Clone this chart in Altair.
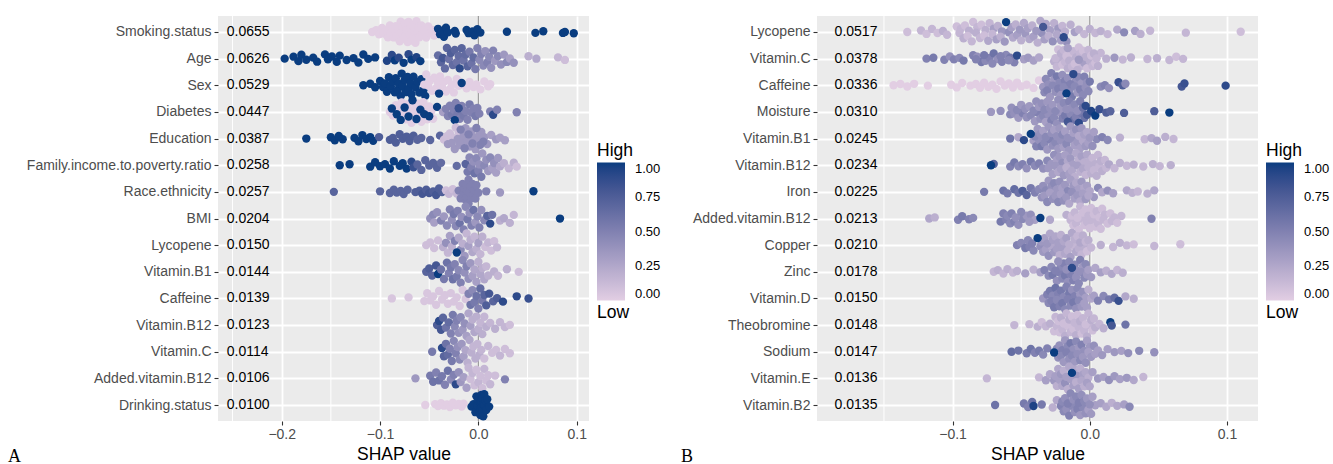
import altair as alt
import numpy as np
import pandas as pd

# ---------------- labels ----------------
FEATURES_A = ["Smoking.status", "Age", "Sex", "Diabetes", "Education",
              "Family.income.to.poverty.ratio", "Race.ethnicity", "BMI", "Lycopene",
              "Vitamin.B1", "Caffeine", "Vitamin.B12", "Vitamin.C",
              "Added.vitamin.B12", "Drinking.status"]
IMPORTANCE_A = ["0.0655", "0.0626", "0.0529", "0.0447", "0.0387", "0.0258", "0.0257",
                "0.0204", "0.0150", "0.0144", "0.0139", "0.0123", "0.0114", "0.0106", "0.0100"]
FEATURES_B = ["Lycopene", "Vitamin.C", "Caffeine", "Moisture", "Vitamin.B1", "Vitamin.B12",
              "Iron", "Added.vitamin.B12", "Copper", "Zinc", "Vitamin.D", "Theobromine",
              "Sodium", "Vitamin.E", "Vitamin.B2"]
IMPORTANCE_B = ["0.0517", "0.0378", "0.0336", "0.0310", "0.0245", "0.0234", "0.0225",
                "0.0213", "0.0210", "0.0178", "0.0150", "0.0148", "0.0147", "0.0136", "0.0135"]
X_TICKS = [-0.2, -0.1, 0.0, 0.1]
X_MINOR_A = [-0.25, -0.15, -0.05, 0.05]
X_MINOR_B = [-0.15, -0.05, 0.05]
LEGEND_VALUES = [0, 0.25, 0.5, 0.75, 1]

# ---------------- panel A points: (SHAP value, scaled feature value) ----------------
A_SMOKING = [
    (-0.108, 0), (-0.104, 0), (-0.101, 0), (-0.098, 0), (-0.096, 0), (-0.094, 0), (-0.092, 0),
    (-0.090, 0), (-0.089, 0), (-0.087, 0), (-0.086, 0), (-0.084, 0), (-0.083, 0), (-0.081, 0),
    (-0.080, 0), (-0.079, 0), (-0.078, 0), (-0.077, 0), (-0.076, 0), (-0.075, 0), (-0.074, 0),
    (-0.073, 0), (-0.072, 0), (-0.071, 0), (-0.070, 0), (-0.069, 0), (-0.068, 0), (-0.067, 0),
    (-0.066, 0), (-0.065, 0), (-0.064, 0), (-0.063, 0), (-0.062, 0), (-0.061, 0), (-0.060, 0),
    (-0.058, 0), (-0.057, 0), (-0.055, 0), (-0.053, 0), (-0.051, 0), (-0.049, 0), (-0.047, 0),
    (-0.045, 0),
    (-0.041, 1), (-0.039, 1), (-0.037, 1), (-0.035, 1), (-0.033, 1), (-0.031, 1), (-0.024, 1),
    (-0.023, 1), (-0.012, 1), (-0.010, 1), (-0.006, 1), (-0.004, 1), (-0.001, 1), (0.002, 1),
    (0.029, 1), (0.058, 1), (0.066, 1), (0.086, 1), (0.088, 1), (0.097, 1)]
A_AGE = [
    (-0.197, 1), (-0.188, 1), (-0.183, 1), (-0.180, 1), (-0.175, 1), (-0.168, 1), (-0.164, 1),
    (-0.156, 1), (-0.153, 1), (-0.149, 1), (-0.144, 1), (-0.141, 1), (-0.134, 1), (-0.127, 1),
    (-0.122, 1), (-0.117, 1), (-0.112, 1), (-0.105, 1),
    (-0.093, 0.95), (-0.088, 0.9), (-0.085, 1), (-0.081, 0.9), (-0.076, 1), (-0.071, 0.9),
    (-0.068, 1), (-0.063, 0.95), (-0.059, 1),
    (-0.041, 0.65), (-0.038, 0.7), (-0.036, 0.8), (-0.034, 0.65), (-0.032, 0.7), (-0.030, 0.6),
    (-0.028, 0.75), (-0.026, 0.65), (-0.024, 0.7), (-0.022, 0.6), (-0.020, 0.65), (-0.019, 0.9),
    (-0.017, 0.7), (-0.015, 0.6), (-0.013, 0.65), (-0.011, 0.7), (-0.009, 0.55), (-0.007, 0.6),
    (-0.005, 0.65), (-0.003, 0.55), (-0.001, 0.5), (0.001, 0.45), (0.003, 0.5), (0.005, 0.45),
    (0.007, 0.4), (0.009, 0.5), (0.011, 0.45), (0.013, 0.4), (0.015, 0.5), (0.017, 0.35),
    (0.020, 0.45), (0.023, 0.4), (0.026, 0.35), (0.029, 0.45), (0.032, 0.3), (0.036, 0.4),
    (0.051, 0.2), (0.059, 0.25), (0.081, 0.15), (0.088, 0.1)]
A_SEX = [
    (-0.117, 1), (-0.110, 1), (-0.105, 1), (-0.100, 1), (-0.097, 1), (-0.095, 1), (-0.093, 1),
    (-0.091, 1), (-0.089, 1), (-0.087, 1), (-0.085, 1), (-0.084, 1), (-0.082, 1), (-0.081, 1),
    (-0.079, 1), (-0.078, 1), (-0.077, 1), (-0.075, 1), (-0.074, 1), (-0.072, 1), (-0.071, 1),
    (-0.069, 1), (-0.068, 1), (-0.066, 1), (-0.064, 1), (-0.062, 1), (-0.060, 1), (-0.058, 1),
    (-0.056, 1), (-0.054, 1),
    (-0.055, 0), (-0.053, 0), (-0.051, 0), (-0.049, 0), (-0.047, 0), (-0.045, 0), (-0.043, 0),
    (-0.041, 0), (-0.039, 0), (-0.037, 0), (-0.035, 0), (-0.033, 0), (-0.031, 0), (-0.029, 0),
    (-0.027, 0), (-0.025, 0), (-0.022, 0), (-0.020, 0), (-0.012, 0), (-0.009, 0), (-0.005, 0),
    (-0.002, 0), (0.002, 0), (0.006, 0), (0.010, 0), (0.012, 0), (-0.017, 1), (-0.040, 1)]
A_DIABETES = [
    (-0.090, 0), (-0.087, 0), (-0.084, 0), (-0.081, 0), (-0.078, 0), (-0.076, 0), (-0.074, 0),
    (-0.072, 0), (-0.070, 0), (-0.068, 0), (-0.066, 0), (-0.064, 0), (-0.062, 0), (-0.060, 0),
    (-0.058, 0), (-0.056, 0), (-0.054, 0), (-0.052, 0), (-0.050, 0), (-0.048, 0), (-0.046, 0),
    (-0.088, 1), (-0.083, 1), (-0.079, 1), (-0.075, 1), (-0.071, 1), (-0.067, 1), (-0.063, 1),
    (-0.059, 1), (-0.055, 1), (-0.050, 1), (-0.042, 1),
    (-0.036, 0.3), (-0.033, 0.5), (-0.031, 0.5), (-0.029, 0.5), (-0.027, 0.55), (-0.025, 0.5),
    (-0.023, 0.5), (-0.021, 0.55), (-0.019, 0.5), (-0.017, 0.5), (-0.015, 0.55), (-0.013, 0.5),
    (-0.011, 0.5), (-0.009, 0.55), (-0.007, 0.5), (-0.005, 0.5), (-0.003, 0.55), (-0.001, 0.5),
    (0.001, 0.5), (-0.024, 1), (-0.020, 0.85),
    (0.012, 0.5), (0.015, 0.9), (0.019, 0.5), (0.039, 0.5)]
A_EDUCATION = [
    (-0.175, 1), (-0.150, 1), (-0.146, 1), (-0.142, 1), (-0.138, 1), (-0.126, 1), (-0.122, 1),
    (-0.118, 1), (-0.114, 1), (-0.110, 1), (-0.107, 1),
    (-0.101, 0.75), (-0.090, 0.75), (-0.087, 0.75), (-0.084, 0.75), (-0.080, 0.75), (-0.077, 0.75),
    (-0.073, 0.75), (-0.070, 0.75), (-0.066, 0.75), (-0.062, 0.7), (-0.058, 0.7), (-0.049, 0.7),
    (-0.039, 0.7),
    (-0.035, 0.1), (-0.032, 0.1), (-0.029, 0.1), (-0.026, 0.1), (-0.023, 0.1), (-0.020, 0.1),
    (-0.031, 0.35), (-0.027, 0.35), (-0.024, 0.35), (-0.021, 0.35), (-0.019, 0.35), (-0.017, 0.35),
    (-0.015, 0.35), (-0.013, 0.35), (-0.011, 0.35), (-0.009, 0.35), (-0.007, 0.35), (-0.005, 0.35),
    (-0.003, 0.35), (-0.001, 0.35), (0.001, 0.35), (0.003, 0.35), (0.006, 0.35), (0.009, 0.35),
    (-0.018, 0.5), (-0.014, 0.5), (-0.010, 0.5), (-0.006, 0.5), (-0.002, 0.5), (0.002, 0.5),
    (0.005, 0.5), (0.013, 0.3), (0.018, 0.35), (0.022, 0.3), (0.027, 0.3)]
A_INCOME = [
    (-0.141, 1), (-0.131, 1), (-0.110, 1), (-0.105, 1), (-0.100, 1), (-0.095, 1), (-0.090, 1),
    (-0.086, 1), (-0.080, 1), (-0.077, 1), (-0.073, 1), (-0.068, 0.9), (-0.066, 0.85),
    (-0.062, 0.7), (-0.058, 0.7), (-0.054, 0.7), (-0.050, 0.7), (-0.046, 0.7), (-0.042, 0.7),
    (-0.038, 0.65), (-0.022, 0.65), (-0.013, 0.7),
    (-0.011, 0.55), (-0.009, 0.45), (-0.007, 0.5), (-0.005, 0.4), (-0.004, 0.6), (-0.002, 0.45),
    (0.000, 0.5), (0.001, 0.4), (0.003, 0.55), (0.004, 0.35), (0.006, 0.45), (0.008, 0.4),
    (0.010, 0.35), (0.012, 0.45), (0.014, 0.3), (0.016, 0.4), (0.018, 0.3), (0.020, 0.35),
    (0.022, 0.25), (0.026, 0.2), (0.031, 0.15), (0.036, 0.2), (0.039, 0.1)]
A_RACE = [
    (-0.147, 0.7), (-0.100, 0.7), (-0.090, 0.7), (-0.086, 0.7), (-0.083, 0.7), (-0.079, 0.7),
    (-0.076, 0.7), (-0.072, 0.7), (-0.064, 0.75), (-0.060, 0.75), (-0.057, 0.8), (-0.053, 0.75),
    (-0.050, 0.8), (-0.046, 0.75), (-0.043, 0.8), (-0.040, 0.75), (-0.037, 0.75),
    (-0.033, 0.1), (-0.030, 0.15), (-0.026, 0.1), (-0.022, 0.15),
    (-0.020, 0.5), (-0.018, 0.5), (-0.016, 0.5), (-0.015, 0.5), (-0.014, 0.5), (-0.013, 0.5),
    (-0.012, 0.5), (-0.012, 0.5), (-0.011, 0.5), (-0.010, 0.5), (-0.010, 0.5), (-0.009, 0.5),
    (-0.008, 0.5), (-0.007, 0.5), (-0.006, 0.5), (-0.005, 0.5), (-0.004, 0.5), (-0.003, 0.5),
    (-0.002, 0.5), (0.000, 0.5), (0.008, 0.5), (0.022, 0.35), (0.056, 1)]
A_BMI = [
    (-0.049, 0.4), (-0.046, 0.45), (-0.045, 0.3), (-0.042, 0.4), (-0.038, 0.5), (-0.035, 0.35),
    (-0.032, 0.45), (-0.029, 0.5), (-0.027, 0.4), (-0.025, 0.55), (-0.023, 0.45), (-0.021, 0.5),
    (-0.019, 0.6), (-0.017, 0.4), (-0.015, 0.5), (-0.013, 0.45), (-0.011, 0.55), (-0.009, 0.4),
    (-0.007, 0.5), (-0.005, 0.6), (-0.003, 0.35), (-0.001, 0.45), (0.001, 0.5), (0.003, 0.4),
    (0.006, 0.45), (0.009, 0.7), (0.012, 0.9), (0.014, 0.6), (0.022, 0.2), (0.026, 0.25),
    (0.032, 0.2), (0.036, 0.15), (0.083, 1)]
A_LYCOPENE = [
    (-0.053, 0.1), (-0.049, 0.1), (-0.045, 0.1), (-0.041, 0.1), (-0.036, 0.2), (-0.033, 0.4),
    (-0.031, 0.15), (-0.029, 0.3), (-0.027, 0.2), (-0.024, 0.5), (-0.020, 0.25), (-0.018, 0.45),
    (-0.016, 0.2), (-0.014, 0.35), (-0.012, 0.15), (-0.010, 0.3), (-0.008, 0.2), (-0.006, 0.25),
    (-0.004, 0.15), (-0.002, 0.2), (0.000, 0.3), (0.002, 0.15), (0.004, 0.2), (0.007, 0.1),
    (0.010, 0.15), (0.013, 0.1), (0.016, 0.1), (0.019, 0.15), (-0.022, 1)]
A_VITB1 = [
    (-0.053, 0.7), (-0.050, 0.75), (-0.047, 0.7), (-0.043, 0.8), (-0.041, 1), (-0.038, 0.6),
    (-0.035, 0.55), (-0.032, 0.6), (-0.030, 0.5), (-0.028, 0.55), (-0.026, 0.6), (-0.024, 0.5),
    (-0.022, 0.55), (-0.020, 0.45), (-0.018, 0.5), (-0.016, 0.45), (-0.014, 0.4), (-0.012, 0.5),
    (-0.010, 0.4), (-0.008, 0.35), (-0.006, 0.3), (-0.004, 0.25), (-0.002, 0.3), (0.000, 0.2),
    (0.002, 0.25), (0.004, 0.2), (0.006, 0.25), (0.008, 0.15), (0.010, 0.2), (0.016, 0.2),
    (0.020, 0.15), (0.029, 0.2), (0.041, 0.1)]
A_CAFFEINE = [
    (-0.088, 0.05), (-0.071, 0.05), (-0.055, 0.05), (-0.052, 0.05), (-0.049, 0.05), (-0.046, 0.05),
    (-0.043, 0.05), (-0.040, 0.05), (-0.037, 0.05), (-0.034, 0.05), (-0.031, 0.05), (-0.028, 0.05),
    (-0.025, 0.05), (-0.022, 0.05), (-0.019, 0.05), (-0.016, 0.05), (-0.013, 0.05),
    (-0.010, 0.5), (-0.008, 0.6), (-0.006, 0.45), (-0.004, 0.55), (-0.002, 0.6), (0.000, 0.5),
    (0.002, 0.65), (0.004, 0.55), (0.006, 0.7), (0.008, 0.75), (0.011, 0.8), (0.015, 0.7),
    (0.019, 0.75), (0.025, 0.9), (0.039, 0.9), (0.051, 0.85)]
A_VITB12 = [
    (-0.042, 0.75), (-0.040, 0.9), (-0.038, 0.8), (-0.036, 0.7), (-0.033, 0.6), (-0.030, 0.65),
    (-0.028, 0.5), (-0.026, 0.55), (-0.024, 0.45), (-0.022, 0.5), (-0.020, 0.4), (-0.018, 0.45),
    (-0.016, 0.35), (-0.014, 0.4), (-0.012, 0.3), (-0.010, 0.25), (-0.008, 0.3), (-0.006, 0.2),
    (-0.004, 0.25), (-0.002, 0.2), (0.000, 0.2), (0.002, 0.15), (0.004, 0.2), (0.006, 0.15),
    (0.008, 0.2), (0.012, 0.15), (0.017, 0.2), (0.022, 0.15), (0.027, 0.15), (0.032, 0.1)]
A_VITC = [
    (-0.047, 0.55), (-0.037, 0.9), (-0.035, 0.7), (-0.033, 0.6), (-0.031, 0.65), (-0.029, 0.5),
    (-0.027, 0.55), (-0.025, 0.45), (-0.023, 0.5), (-0.021, 0.4), (-0.019, 0.45), (-0.017, 0.35),
    (-0.015, 0.3), (-0.013, 0.25), (-0.011, 0.2), (-0.009, 0.25), (-0.007, 0.2), (-0.005, 0.15),
    (-0.003, 0.2), (-0.001, 0.15), (0.001, 0.2), (0.003, 0.15), (0.006, 0.1), (0.010, 0.15),
    (0.014, 0.1), (0.018, 0.1), (0.022, 0.15), (0.027, 0.1), (0.032, 0.1)]
A_ADDED_B12 = [
    (-0.064, 0.35), (-0.049, 0.55), (-0.046, 0.6), (-0.043, 0.5), (-0.040, 0.6), (-0.037, 0.55),
    (-0.034, 0.5), (-0.031, 0.6), (-0.028, 0.45), (-0.025, 0.5), (-0.023, 0.9), (-0.020, 0.4),
    (-0.018, 0.35), (-0.015, 0.3), (-0.012, 0.3), (-0.010, 0.15), (-0.008, 0.1), (-0.006, 0.15),
    (-0.004, 0.1), (-0.002, 0.1), (0.000, 0.15), (0.002, 0.1), (0.004, 0.1), (0.006, 0.15),
    (0.008, 0.1), (0.010, 0.1), (0.012, 0.15), (0.017, 0.1), (0.027, 0.5)]
A_DRINKING = [
    (-0.054, 0), (-0.044, 0), (-0.041, 0), (-0.038, 0), (-0.035, 0), (-0.032, 0), (-0.029, 0),
    (-0.026, 0), (-0.023, 0), (-0.020, 0), (-0.017, 0), (-0.015, 0),
    (-0.007, 1), (-0.005, 1), (-0.003, 1), (-0.002, 1), (-0.001, 1), (0.000, 1), (0.001, 1),
    (0.001, 1), (0.002, 1), (0.002, 1), (0.002, 1), (0.003, 1), (0.003, 1), (0.003, 1),
    (0.004, 1), (0.004, 1), (0.004, 1), (0.005, 1), (0.005, 1), (0.006, 1), (0.006, 1),
    (0.007, 1), (0.008, 1), (0.009, 1), (0.011, 1)]

# ---------------- panel B points ----------------
B_LYCOPENE = [
    (-0.133, 0.1), (-0.123, 0.15), (-0.119, 0.1), (-0.115, 0.15), (-0.111, 0.1), (-0.107, 0.2),
    (-0.104, 0.15), (-0.097, 0.1), (-0.094, 0.15), (-0.091, 0.1), (-0.088, 0.2), (-0.085, 0.1),
    (-0.082, 0.15), (-0.079, 0.1), (-0.076, 0.2), (-0.073, 0.15), (-0.070, 0.3), (-0.067, 0.2),
    (-0.064, 0.35), (-0.059, 0.4), (-0.056, 0.25), (-0.053, 0.3), (-0.050, 0.2), (-0.047, 0.35),
    (-0.044, 0.25), (-0.041, 0.3), (-0.038, 0.2), (-0.035, 0.4), (-0.032, 0.25), (-0.029, 0.3),
    (-0.026, 0.2), (-0.023, 0.35), (-0.020, 0.15), (-0.017, 0.4), (-0.014, 0.2), (-0.011, 0.3),
    (-0.008, 0.2), (-0.004, 0.15), (0.000, 0.2), (0.004, 0.15), (0.008, 0.2), (0.013, 0.15),
    (0.020, 0.25), (0.025, 0.45), (0.033, 0.3), (0.037, 0.2), (0.044, 0.15), (0.070, 0.15),
    (0.110, 0.1),
    (-0.095, 0.15), (-0.092, 0.2), (-0.089, 0.1), (-0.086, 0.15), (-0.083, 0.2), (-0.080, 0.15),
    (-0.077, 0.1), (-0.074, 0.25), (-0.071, 0.15), (-0.068, 0.3), (-0.065, 0.2), (-0.062, 0.35),
    (-0.057, 0.3), (-0.054, 0.2), (-0.051, 0.35), (-0.048, 0.25), (-0.045, 0.3), (-0.042, 0.2),
    (-0.039, 0.35), (-0.036, 0.25), (-0.033, 0.3), (-0.030, 0.2), (-0.027, 0.4), (-0.024, 0.25),
    (-0.021, 0.3), (-0.018, 0.2),
    (-0.061, 1), (-0.034, 0.8), (-0.019, 0.9)]
B_VITC = [
    (-0.119, 0.5), (-0.114, 0.55), (-0.106, 0.5), (-0.102, 0.4), (-0.099, 0.5), (-0.095, 0.45),
    (-0.092, 0.55), (-0.085, 0.5), (-0.082, 0.4), (-0.079, 0.55), (-0.076, 0.45), (-0.073, 0.5),
    (-0.070, 0.6), (-0.067, 0.4), (-0.064, 0.5), (-0.061, 0.45), (-0.058, 0.55), (-0.055, 0.5),
    (-0.083, 0.5), (-0.077, 0.55), (-0.071, 0.45), (-0.065, 0.5), (-0.059, 0.45),
    (-0.053, 0.9), (-0.048, 0.3), (-0.045, 0.35), (-0.041, 0.3), (-0.037, 0.25),
    (-0.026, 0.2), (-0.024, 0.15), (-0.022, 0.2), (-0.020, 0.1), (-0.018, 0.15), (-0.016, 0.2),
    (-0.014, 0.1), (-0.012, 0.15), (-0.010, 0.2), (-0.008, 0.1), (-0.006, 0.15), (-0.004, 0.3),
    (-0.002, 0.1), (0.000, 0.2), (0.002, 0.15), (0.004, 0.1), (0.006, 0.2), (0.008, 0.15),
    (-0.025, 0.15), (-0.023, 0.1), (-0.021, 0.2), (-0.019, 0.15), (-0.017, 0.1), (-0.015, 0.2),
    (-0.013, 0.15), (-0.011, 0.1), (-0.009, 0.2), (-0.007, 0.15), (-0.005, 0.1), (-0.003, 0.2),
    (-0.001, 0.15), (0.001, 0.1), (0.003, 0.2), (0.005, 0.15), (-0.016, 0.3), (-0.008, 0.35),
    (0.012, 0.2), (0.018, 0.35), (0.024, 0.15), (0.030, 0.2), (0.042, 0.15), (0.049, 0.2),
    (0.058, 0.15), (0.063, 0.1), (0.068, 0.15)]
B_CAFFEINE = [
    (-0.143, 0), (-0.138, 0), (-0.133, 0), (-0.128, 0), (-0.118, 0), (-0.101, 0), (-0.097, 0),
    (-0.093, 0), (-0.087, 0), (-0.083, 0), (-0.080, 0), (-0.077, 0), (-0.074, 0), (-0.071, 0),
    (-0.068, 0), (-0.065, 0), (-0.062, 0), (-0.059, 0), (-0.056, 0), (-0.053, 0), (-0.050, 0),
    (-0.046, 0), (-0.041, 0), (-0.037, 0), (-0.033, 0),
    (-0.034, 0.35), (-0.032, 0.45), (-0.030, 0.4), (-0.028, 0.5), (-0.026, 0.35), (-0.024, 0.55),
    (-0.022, 0.45), (-0.020, 0.4), (-0.018, 0.5), (-0.015, 0.45), (-0.013, 0.55),
    (-0.010, 0.4), (-0.008, 0.45), (-0.006, 0.35), (-0.004, 0.5), (-0.002, 0.4),
    (-0.033, 0.45), (-0.031, 0.5), (-0.029, 0.35), (-0.027, 0.45), (-0.025, 0.4), (-0.023, 0.5),
    (-0.021, 0.35), (-0.019, 0.45), (-0.016, 0.4), (-0.014, 0.5), (-0.011, 0.45), (-0.009, 0.35),
    (-0.007, 0.5), (-0.005, 0.45), (-0.003, 0.4), (-0.001, 0.45),
    (-0.017, 1), (-0.012, 0.9),
    (0.000, 0.55), (0.008, 0.45), (0.011, 0.5), (0.014, 0.4), (0.021, 0.85), (0.024, 0.75),
    (0.026, 0.45), (0.067, 0.8), (0.069, 0.85), (0.099, 0.9)]
B_MOISTURE = [
    (-0.072, 0.35), (-0.065, 0.4), (-0.058, 0.45), (-0.055, 0.4), (-0.052, 0.35), (-0.049, 0.5),
    (-0.046, 0.4), (-0.043, 0.45), (-0.040, 0.35), (-0.038, 0.5), (-0.036, 0.4), (-0.034, 0.45),
    (-0.032, 0.3), (-0.030, 0.4), (-0.028, 0.5), (-0.026, 0.45), (-0.024, 0.4), (-0.022, 0.35),
    (-0.020, 0.5), (-0.018, 0.55), (-0.014, 0.45), (-0.012, 0.6), (-0.010, 0.5),
    (-0.006, 0.55), (-0.004, 0.6),
    (-0.057, 0.4), (-0.053, 0.45), (-0.050, 0.35), (-0.047, 0.4), (-0.044, 0.35), (-0.041, 0.45),
    (-0.039, 0.4), (-0.037, 0.35), (-0.035, 0.4), (-0.033, 0.45), (-0.031, 0.35), (-0.029, 0.4),
    (-0.027, 0.35), (-0.025, 0.45), (-0.023, 0.4), (-0.021, 0.35), (-0.019, 0.45), (-0.017, 0.4),
    (-0.015, 0.5), (-0.013, 0.4), (-0.011, 0.45), (-0.009, 0.4), (-0.007, 0.5), (-0.005, 0.6),
    (-0.016, 0.8), (-0.008, 0.9), (-0.003, 0.9), (-0.002, 0.8), (0.001, 0.95), (0.004, 1),
    (0.007, 0.85), (0.012, 0.75), (0.015, 0.7), (0.025, 0.75), (0.047, 0.75), (0.058, 1)]
B_VITB1 = [
    (-0.058, 0.6), (-0.052, 0.25), (-0.041, 0.3), (-0.039, 0.5),
    (-0.037, 0.4), (-0.035, 0.55), (-0.033, 0.45), (-0.031, 0.35), (-0.029, 0.5), (-0.027, 0.4),
    (-0.025, 0.45), (-0.023, 0.35), (-0.021, 0.4), (-0.019, 0.3), (-0.017, 0.45), (-0.015, 0.35),
    (-0.013, 0.4), (-0.011, 0.3), (-0.009, 0.35), (-0.007, 0.3), (-0.005, 0.25), (-0.003, 0.35),
    (-0.001, 0.3), (0.002, 0.4), (0.005, 0.45), (0.009, 0.5), (0.013, 0.45), (0.022, 0.2),
    (-0.040, 0.45), (-0.038, 0.35), (-0.036, 0.4), (-0.034, 0.3), (-0.032, 0.45), (-0.030, 0.35),
    (-0.028, 0.4), (-0.026, 0.3), (-0.024, 0.4), (-0.022, 0.35), (-0.020, 0.45), (-0.018, 0.3),
    (-0.016, 0.4), (-0.014, 0.35), (-0.012, 0.3), (-0.010, 0.4), (-0.008, 0.25), (-0.006, 0.35),
    (-0.004, 0.3), (-0.002, 0.25), (0.000, 0.35), (0.003, 0.3),
    (-0.048, 0.9), (-0.043, 1),
    (0.040, 0.15), (0.045, 0.25), (0.049, 0.3), (0.055, 0.2), (0.061, 0.15)]
B_VITB12 = [
    (-0.070, 0.7), (-0.058, 0.5), (-0.055, 0.55), (-0.052, 0.45), (-0.049, 0.5),
    (-0.046, 0.4), (-0.043, 0.55), (-0.040, 0.45), (-0.037, 0.5), (-0.034, 0.4), (-0.031, 0.45),
    (-0.028, 0.35), (-0.026, 0.4), (-0.024, 0.3), (-0.022, 0.35), (-0.020, 0.4), (-0.018, 0.3),
    (-0.016, 0.25), (-0.014, 0.35), (-0.012, 0.3), (-0.010, 0.25), (-0.008, 0.2), (-0.006, 0.3),
    (-0.004, 0.2), (-0.002, 0.25), (0.000, 0.2), (0.002, 0.15), (0.004, 0.2), (0.006, 0.15),
    (-0.030, 0.35), (-0.027, 0.3), (-0.025, 0.35), (-0.023, 0.25), (-0.021, 0.3), (-0.019, 0.35),
    (-0.017, 0.2), (-0.015, 0.3), (-0.013, 0.25), (-0.011, 0.2), (-0.009, 0.3), (-0.007, 0.2),
    (-0.005, 0.25), (-0.003, 0.15), (-0.001, 0.2), (0.001, 0.2), (0.003, 0.15), (0.005, 0.2),
    (0.007, 0.15), (0.009, 0.2), (0.012, 0.15), (-0.072, 1),
    (0.008, 0.2), (0.011, 0.15), (0.014, 0.25), (0.018, 0.15), (0.022, 0.2), (0.027, 0.15),
    (0.032, 0.2), (0.039, 0.15), (0.046, 0.2), (0.051, 0.15), (0.059, 0.2)]
B_IRON = [
    (-0.077, 0.55), (-0.063, 0.6), (-0.060, 0.55), (-0.055, 0.65), (-0.052, 0.6), (-0.049, 0.75),
    (-0.046, 0.7), (-0.043, 0.55), (-0.040, 0.5), (-0.037, 0.45), (-0.034, 0.4), (-0.032, 0.45),
    (-0.030, 0.35), (-0.028, 0.4), (-0.026, 0.45), (-0.024, 0.35), (-0.022, 0.4), (-0.020, 0.3),
    (-0.018, 0.35), (-0.016, 0.45), (-0.014, 0.3), (-0.012, 0.35), (-0.010, 0.25), (-0.008, 0.3),
    (-0.006, 0.35), (-0.004, 0.25), (-0.002, 0.3), (0.000, 0.25), (0.003, 0.35), (0.006, 0.45),
    (-0.035, 0.4), (-0.033, 0.35), (-0.031, 0.45), (-0.029, 0.3), (-0.027, 0.4), (-0.025, 0.35),
    (-0.023, 0.45), (-0.021, 0.3), (-0.019, 0.4), (-0.017, 0.35), (-0.015, 0.25), (-0.013, 0.4),
    (-0.011, 0.3), (-0.009, 0.35), (-0.007, 0.25), (-0.005, 0.3), (-0.003, 0.35), (-0.001, 0.25),
    (0.009, 0.25), (0.013, 0.4), (0.017, 0.3), (0.027, 0.25), (0.031, 0.2), (0.035, 0.15),
    (0.042, 0.2), (0.047, 0.25)]
B_ADDED_B12 = [
    (-0.117, 0.25), (-0.113, 0.2), (-0.096, 0.5), (-0.093, 0.55), (-0.088, 0.5), (-0.085, 0.45),
    (-0.065, 0.55), (-0.061, 0.5), (-0.058, 0.45), (-0.055, 0.5), (-0.052, 0.4), (-0.049, 0.45),
    (-0.046, 0.35), (-0.043, 0.4), (-0.040, 0.3), (-0.029, 0.25), (-0.017, 0.2),
    (-0.063, 0.5), (-0.060, 0.45), (-0.057, 0.5), (-0.054, 0.4), (-0.050, 0.45), (-0.044, 0.35),
    (-0.014, 0.15), (-0.012, 0.1), (-0.010, 0.15), (-0.008, 0.1), (-0.006, 0.15), (-0.004, 0.1),
    (-0.002, 0.15), (0.000, 0.1), (0.002, 0.15), (0.004, 0.1), (0.006, 0.15), (0.008, 0.1),
    (-0.013, 0.1), (-0.011, 0.15), (-0.009, 0.1), (-0.007, 0.15), (-0.005, 0.1), (-0.003, 0.1),
    (-0.001, 0.15), (0.001, 0.1), (0.003, 0.1), (0.005, 0.15), (0.007, 0.1), (0.009, 0.1),
    (0.011, 0.15), (0.015, 0.1), (0.018, 0.15), (-0.036, 1),
    (0.010, 0.15), (0.013, 0.1), (0.016, 0.15), (0.020, 0.1), (0.023, 0.15), (0.045, 0.5)]
B_COPPER = [
    (-0.053, 0.5), (-0.050, 0.45), (-0.047, 0.55), (-0.044, 0.5), (-0.041, 0.45),
    (-0.036, 0.4), (-0.034, 0.35), (-0.032, 0.3), (-0.030, 0.4), (-0.028, 0.25), (-0.026, 0.35),
    (-0.024, 0.3), (-0.022, 0.2), (-0.020, 0.3), (-0.018, 0.25), (-0.016, 0.2), (-0.014, 0.3),
    (-0.012, 0.15), (-0.010, 0.25), (-0.008, 0.2), (-0.006, 0.15), (-0.004, 0.2), (-0.002, 0.1),
    (-0.035, 0.35), (-0.033, 0.3), (-0.031, 0.35), (-0.029, 0.25), (-0.027, 0.3), (-0.025, 0.25),
    (-0.023, 0.3), (-0.021, 0.2), (-0.019, 0.25), (-0.017, 0.3), (-0.015, 0.2), (-0.013, 0.25),
    (-0.011, 0.2), (-0.009, 0.15), (-0.007, 0.25), (-0.005, 0.2), (-0.003, 0.15), (-0.001, 0.2),
    (-0.045, 0.45), (-0.042, 0.5), (-0.038, 1),
    (0.001, 0.15), (0.008, 0.2), (0.017, 0.15), (0.022, 0.2), (0.027, 0.15), (0.032, 0.1),
    (0.047, 0.15), (0.066, 0.1)]
B_ZINC = [
    (-0.070, 0.15), (-0.067, 0.2), (-0.063, 0.15), (-0.060, 0.2), (-0.056, 0.15), (-0.053, 0.2),
    (-0.047, 0.3), (-0.041, 0.2), (-0.036, 0.3), (-0.033, 0.5), (-0.030, 0.45), (-0.027, 0.55),
    (-0.024, 0.4), (-0.022, 0.5), (-0.020, 0.45), (-0.018, 0.55), (-0.016, 0.4), (-0.014, 0.5),
    (-0.011, 0.45), (-0.009, 0.4), (-0.007, 0.5), (-0.005, 0.35), (-0.003, 0.45),
    (-0.021, 0.45), (-0.019, 0.5), (-0.017, 0.4), (-0.015, 0.45), (-0.012, 0.5), (-0.010, 0.4),
    (-0.008, 0.45), (-0.006, 0.4), (-0.004, 0.45), (-0.002, 0.35), (-0.028, 0.45), (-0.025, 0.5),
    (-0.023, 0.4), (-0.013, 0.9),
    (-0.001, 0.3), (0.001, 0.35), (0.004, 0.25), (0.008, 0.3), (0.012, 0.2), (0.016, 0.25),
    (0.020, 0.15), (0.024, 0.2)]
B_VITD = [
    (-0.034, 0.35), (-0.031, 0.5), (-0.029, 0.55), (-0.027, 0.45), (-0.025, 0.6), (-0.023, 0.5),
    (-0.021, 0.55), (-0.019, 0.45), (-0.017, 0.5), (-0.015, 0.55), (-0.013, 0.4), (-0.011, 0.5),
    (-0.009, 0.45), (-0.007, 0.35), (-0.005, 0.4), (-0.003, 0.3), (-0.001, 0.2), (0.001, 0.25),
    (-0.030, 0.45), (-0.028, 0.5), (-0.026, 0.55), (-0.024, 0.45), (-0.022, 0.5), (-0.020, 0.55),
    (-0.018, 0.45), (-0.016, 0.5), (-0.014, 0.45), (-0.012, 0.55), (-0.010, 0.4), (-0.008, 0.45),
    (-0.006, 0.35), (-0.004, 0.3), (-0.002, 0.3),
    (0.003, 0.3), (0.006, 0.5), (0.010, 0.45), (0.014, 0.55), (0.018, 0.65), (0.021, 0.85),
    (0.026, 0.25), (0.032, 0.2)]
B_THEOBROMINE = [
    (-0.055, 0.15), (-0.044, 0.15), (-0.038, 0.2), (-0.035, 0.1), (-0.032, 0.15), (-0.029, 0.2),
    (-0.026, 0.1), (-0.024, 0.15), (-0.022, 0.1), (-0.020, 0.15), (-0.018, 0.2), (-0.016, 0.1),
    (-0.014, 0.15), (-0.012, 0.1), (-0.010, 0.2), (-0.008, 0.15), (-0.006, 0.1), (-0.004, 0.15),
    (-0.002, 0.2), (0.000, 0.15), (0.002, 0.1), (0.004, 0.2),
    (-0.025, 0.15), (-0.023, 0.1), (-0.021, 0.2), (-0.019, 0.1), (-0.017, 0.15), (-0.015, 0.2),
    (-0.013, 0.1), (-0.011, 0.15), (-0.009, 0.1), (-0.007, 0.2), (-0.005, 0.15), (-0.003, 0.1),
    (-0.001, 0.15), (0.001, 0.2), (0.003, 0.15),
    (0.007, 0.15), (0.010, 0.2), (0.015, 1), (0.016, 0.8), (0.026, 0.6)]
B_SODIUM = [
    (-0.057, 0.65), (-0.052, 0.6), (-0.046, 0.55), (-0.043, 0.6), (-0.040, 0.5), (-0.037, 0.55),
    (-0.034, 0.45), (-0.031, 0.5), (-0.024, 0.45), (-0.022, 0.4), (-0.020, 0.5),
    (-0.018, 0.35), (-0.016, 0.45), (-0.014, 0.55), (-0.012, 0.4), (-0.010, 0.45), (-0.008, 0.35),
    (-0.006, 0.5), (-0.004, 0.4), (-0.002, 0.3), (0.000, 0.35), (0.003, 0.4), (0.006, 0.3),
    (-0.023, 0.4), (-0.021, 0.45), (-0.019, 0.35), (-0.017, 0.5), (-0.015, 0.4), (-0.013, 0.45),
    (-0.011, 0.35), (-0.009, 0.4), (-0.007, 0.45), (-0.005, 0.35), (-0.003, 0.4), (-0.001, 0.3),
    (0.001, 0.35), (0.004, 0.3), (-0.026, 1),
    (0.009, 0.35), (0.013, 0.3), (0.018, 0.35), (0.023, 0.3), (0.028, 0.4), (0.036, 0.45),
    (0.047, 0.4)]
B_VITE = [
    (-0.075, 0.15), (-0.037, 0.15), (-0.032, 0.3), (-0.029, 0.25), (-0.026, 0.35), (-0.024, 0.2),
    (-0.022, 0.3), (-0.020, 0.25), (-0.018, 0.4), (-0.016, 0.2), (-0.014, 0.3),
    (-0.011, 0.25), (-0.009, 0.35), (-0.007, 0.2), (-0.005, 0.3), (-0.003, 0.25), (-0.001, 0.2),
    (-0.025, 0.3), (-0.023, 0.25), (-0.021, 0.35), (-0.019, 0.2), (-0.017, 0.3), (-0.015, 0.25),
    (-0.012, 0.3), (-0.010, 0.2), (-0.008, 0.3), (-0.006, 0.25), (-0.004, 0.2), (-0.002, 0.3),
    (0.000, 0.25), (-0.013, 1),
    (0.002, 0.3), (0.006, 0.35), (0.010, 0.3), (0.014, 0.4), (0.018, 0.35), (0.022, 0.3),
    (0.027, 0.35), (0.032, 0.25), (0.039, 0.15)]
B_VITB2 = [
    (-0.069, 0.6), (-0.048, 0.55), (-0.045, 0.5), (-0.042, 0.6), (-0.035, 0.55),
    (-0.027, 0.2), (-0.024, 0.25), (-0.021, 0.5), (-0.019, 0.45), (-0.017, 0.4), (-0.015, 0.5),
    (-0.013, 0.45), (-0.011, 0.4), (-0.009, 0.5), (-0.007, 0.35), (-0.005, 0.45), (-0.003, 0.4),
    (-0.001, 0.3), (0.001, 0.35), (0.004, 0.3),
    (-0.020, 0.45), (-0.018, 0.4), (-0.016, 0.5), (-0.014, 0.45), (-0.012, 0.4), (-0.010, 0.45),
    (-0.008, 0.5), (-0.006, 0.4), (-0.004, 0.45), (-0.002, 0.35), (0.000, 0.4), (0.002, 0.3),
    (-0.041, 0.95),
    (0.008, 0.3), (0.012, 0.25), (0.016, 0.2), (0.020, 0.25), (0.025, 0.3), (0.029, 0.45)]

POINTS_A = [A_SMOKING, A_AGE, A_SEX, A_DIABETES, A_EDUCATION, A_INCOME, A_RACE, A_BMI,
            A_LYCOPENE, A_VITB1, A_CAFFEINE, A_VITB12, A_VITC, A_ADDED_B12, A_DRINKING]
POINTS_B = [B_LYCOPENE, B_VITC, B_CAFFEINE, B_MOISTURE, B_VITB1, B_VITB12, B_IRON,
            B_ADDED_B12, B_COPPER, B_ZINC, B_VITD, B_THEOBROMINE, B_SODIUM, B_VITE, B_VITB2]

LOW_COLOR = "#E2CEE3"
HIGH_COLOR = "#0A3D80"
FONT = "Liberation Sans"

PLOT_H = 405
N_ROWS = 15
ROW_PX = PLOT_H / (N_ROWS - 1 + 1.2)


def vdc(n):
    v, d = 0.0, 1.0
    while n:
        n, r = divmod(n, 2)
        d *= 2
        v += r / d
    return v


def sina_offsets(shaps, px_per_unit, hmax=12.5, bw=5.0):
    """Quasi-random (van der Corput) spread scaled by local density, in pixels."""
    x = np.asarray(shaps, dtype=float) * px_per_unit
    diff = (x[:, None] - x[None, :]) / bw
    dens = np.exp(-0.5 * diff ** 2).sum(axis=1)
    h = hmax * dens / dens.max()
    order = np.argsort(x, kind="stable")
    off = np.zeros(len(x))
    for rank, i in enumerate(order):
        off[i] = (2 * vdc(rank + 1) - 1) * h[i]
    return off


def panel(features, importance, points, xdom, width, minor, text_px, letter, letter_px):
    px_per_unit = width / (xdom[1] - xdom[0])
    recs = []
    for r, pts in enumerate(points):
        sh = [p[0] for p in pts]
        vals = [p[1] for p in pts]
        off = sina_offsets(sh, px_per_unit)
        for s, v, o in zip(sh, vals, off):
            recs.append({"row": r, "shap": s, "val": v, "ypos": r + o / ROW_PX})
    df = pd.DataFrame(recs)
    labels_df = pd.DataFrame({"row": list(range(len(features))), "imp": importance})
    label_expr = "[" + ",".join("'%s'" % f for f in features) + "][datum.value]"

    xscale = alt.Scale(domain=list(xdom), nice=False, zero=False)
    yscale = alt.Scale(domain=[-0.6, N_ROWS - 0.4], reverse=True, nice=False, zero=False)
    xaxis = alt.Axis(values=X_TICKS, format=".1f", title="SHAP value", grid=True)
    yaxis = alt.Axis(values=list(range(N_ROWS)), labelExpr=label_expr, title=None, grid=True,
                     labelLimit=400)

    minor_layer = alt.Chart(pd.DataFrame({"shap": minor})).mark_rule(
        color="white", strokeWidth=1.0).encode(x=alt.X("shap:Q", scale=xscale, axis=xaxis))
    zero_layer = alt.Chart(pd.DataFrame({"shap": [0.0]})).mark_rule(
        color="#9E9E9E", strokeWidth=1.3).encode(x=alt.X("shap:Q", scale=xscale, axis=xaxis))

    pts_layer = alt.Chart(df).mark_circle(size=70, opacity=1).encode(
        x=alt.X("shap:Q", scale=xscale, axis=xaxis),
        y=alt.Y("ypos:Q", scale=yscale, axis=yaxis),
        color=alt.Color("val:Q",
                        scale=alt.Scale(domain=[0, 1], range=[LOW_COLOR, HIGH_COLOR],
                                        interpolate="lab"),
                        legend=alt.Legend(title="High", orient="none",
                                          legendX=width + 8, legendY=126,
                                          values=LEGEND_VALUES, format=".2f",
                                          gradientLength=138, gradientThickness=28,
                                          gradientStrokeWidth=0,
                                          labelBaseline="middle", labelOffset=10,
                                          labelFontSize=13, labelColor="black",
                                          titleFontSize=17.5, titleFontWeight="normal",
                                          titleColor="black", titlePadding=3)),
    )
    text_layer = alt.Chart(labels_df).mark_text(
        align="left", baseline="middle", fontSize=14, color="black", font=FONT).encode(
        x=alt.value(text_px),
        y=alt.Y("row:Q", scale=yscale, axis=yaxis),
        text="imp:N")
    low_layer = alt.Chart(pd.DataFrame({"t": ["Low"]})).mark_text(
        align="left", baseline="alphabetic", fontSize=17.5, color="black", font=FONT).encode(
        x=alt.value(width + 8), y=alt.value(302), text="t:N")
    letter_layer = alt.Chart(pd.DataFrame({"t": [letter]})).mark_text(
        align="left", baseline="alphabetic", fontSize=18, color="black",
        font="Liberation Serif").encode(
        x=alt.value(letter_px), y=alt.value(446), text="t:N")

    return alt.layer(minor_layer, zero_layer, pts_layer, text_layer, low_layer,
                     letter_layer).properties(width=width, height=PLOT_H)


chart_a = panel(FEATURES_A, IMPORTANCE_A, POINTS_A, (-0.2648, 0.1125), 371, X_MINOR_A,
                8.7, "A", -210)
chart_b = panel(FEATURES_B, IMPORTANCE_B, POINTS_B, (-0.1988, 0.1226), 441, X_MINOR_B,
                17.6, "B", -136)

chart = alt.hconcat(chart_a, chart_b, spacing=20).resolve_scale(
    color="independent", x="independent", y="independent"
).properties(
    padding={"left": 8, "top": 15, "right": 0, "bottom": 0}
).configure_view(
    fill="#EBEBEB", stroke=None
).configure_axis(
    domain=False, gridColor="white", gridWidth=1.8, tickColor="#333333", tickSize=4,
    tickWidth=1.1, labelColor="#4D4D4D", labelFontSize=14, labelFont=FONT,
    titleFont=FONT, titleFontSize=17.5, titleFontWeight="normal", titleColor="black"
).configure_axisX(
    labelPadding=2, titlePadding=4
).configure_axisY(
    labelPadding=3
).configure_legend(
    labelFont=FONT, titleFont=FONT
)

chart.save("out.html", embed_options={"renderer": "svg", "actions": False})
